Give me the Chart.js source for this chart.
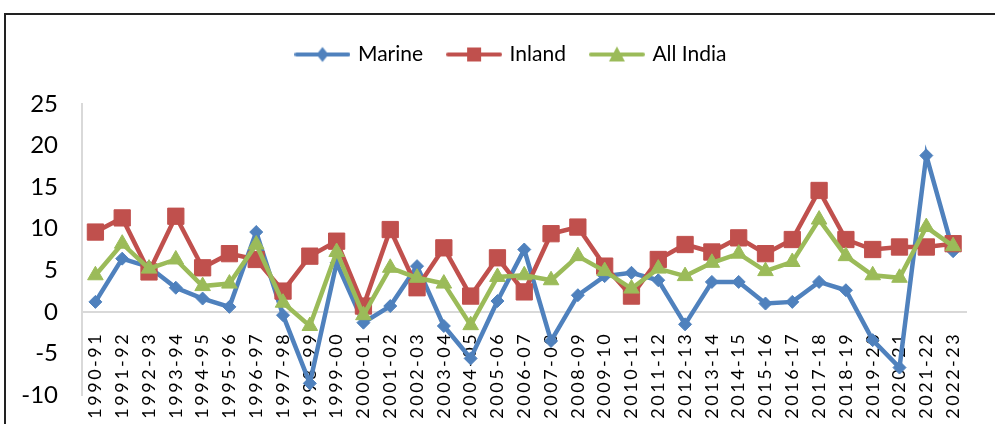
<!DOCTYPE html>
<html>
<head>
<meta charset="utf-8">
<script src="https://cdn.jsdelivr.net/npm/chart.js@4"></script>
<style>
  html, body { margin: 0; padding: 0; background: #fff; overflow: hidden; }
  #wrap { position: relative; width: 995px; height: 424px; }
  #frame { position: absolute; left: 4px; top: 13px; right: -10px; bottom: -10px;
           border-left: 2px solid #222; border-top: 2px solid #222; pointer-events: none; }
</style>
</head>
<body>
<div id="wrap">
  <canvas id="chart" width="995" height="424"></canvas>
  <div id="frame"></div>
</div>
<script>
const years = ['1990-91', '1991-92', '1992-93', '1993-94', '1994-95', '1995-96', '1996-97',
               '1997-98', '1998-99', '1999-00', '2000-01', '2001-02', '2002-03', '2003-04',
               '2004-05', '2005-06', '2006-07', '2007-08', '2008-09', '2009-10', '2010-11',
               '2011-12', '2012-13', '2013-14', '2014-15', '2015-16', '2016-17', '2017-18',
               '2018-19', '2019-20', '2020-21', '2021-22', '2022-23'];

const marine = [1.2, 6.4, 5.4, 2.9, 1.6, 0.6, 9.6, -0.4, -8.6, 5.9, -1.3, 0.7, 5.5, -1.7,
                -5.6, 1.3, 7.5, -3.5, 2.0, 4.3, 4.7, 3.8, -1.5, 3.6, 3.6, 1.0, 1.2, 3.6,
                2.6, -3.4, -6.7, 18.8, 7.3];
const inland = [9.6, 11.3, 4.8, 11.5, 5.3, 7.0, 6.3, 2.5, 6.7, 8.5, 0.7, 9.9, 2.9, 7.7,
                1.9, 6.5, 2.4, 9.4, 10.2, 5.5, 1.9, 6.3, 8.1, 7.2, 8.9, 7.0, 8.7, 14.6,
                8.7, 7.5, 7.8, 7.8, 8.2];
const allIndia = [4.4, 8.2, 5.2, 6.3, 3.1, 3.4, 8.1, 1.1, -1.7, 7.2, -0.4, 5.3, 4.1, 3.4,
                  -1.6, 4.2, 4.4, 3.8, 6.7, 4.9, 2.8, 5.2, 4.3, 5.9, 7.0, 4.9, 6.0, 11.1,
                  6.7, 4.4, 4.1, 10.2, 7.9];

const seriesNames = ['Marine', 'Inland', 'All India'];
const seriesColors = ['#4F81BD', '#C0504D', '#9BBB59'];

const yMin = -10;
const yMax = 25;
const yStep = 5;

// legend sample: line with the marker in the middle
function legendIcon(color, shape) {
  const c = document.createElement('canvas');
  c.width = 56; c.height = 18;
  const g = c.getContext('2d');
  g.strokeStyle = color;
  g.lineWidth = 4;
  g.lineCap = 'round';
  g.beginPath(); g.moveTo(2, 9); g.lineTo(54, 9); g.stroke();
  g.fillStyle = color;
  g.beginPath();
  if (shape === 'diamond') {
    g.moveTo(28, 1.5); g.lineTo(34, 9); g.lineTo(28, 16.5); g.lineTo(22, 9);
  } else if (shape === 'square') {
    g.rect(21, 2, 14, 14);
  } else {
    g.moveTo(28, 1); g.lineTo(36, 16); g.lineTo(20, 16);
  }
  g.closePath();
  g.fill();
  return c;
}

const icons = [
  legendIcon(seriesColors[0], 'diamond'),
  legendIcon(seriesColors[1], 'square'),
  legendIcon(seriesColors[2], 'triangle')
];

// extra room under the legend, and nudge it right like the original
const legendTweak = {
  id: 'legendTweak',
  beforeInit(chart) {
    const lg = chart.legend;
    const fit = lg.fit;
    lg.fit = function () {
      fit.call(this);
      this.height += 29;
    };
    const draw = lg.draw;
    lg.draw = function () {
      const ctx = this.ctx;
      ctx.save();
      ctx.translate(24, 0);
      draw.apply(this, arguments);
      ctx.restore();
    };
  }
};

// wide letter spacing on the category labels only
const spacedLabels = {
  id: 'spacedLabels',
  beforeDraw(chart) {
    const sc = chart.scales.x;
    if (sc._spaced) return;
    const orig = sc.drawLabels;
    sc.drawLabels = function (area) {
      const ctx = this.ctx;
      ctx.save();
      ctx.letterSpacing = '2.5px';
      orig.call(this, area);
      ctx.restore();
    };
    sc._spaced = true;
  }
};

function makeSet(i, data, style, radius) {
  return {
    label: seriesNames[i],
    data: data,
    borderColor: seriesColors[i],
    backgroundColor: seriesColors[i],
    borderWidth: 4.5,
    pointStyle: style,
    pointRadius: radius,
    pointBorderWidth: 1,
    pointBorderColor: seriesColors[i],
    pointBackgroundColor: seriesColors[i],
    tension: 0,
    order: 3 - i
  };
}

new Chart(document.getElementById('chart'), {
  type: 'line',
  data: {
    labels: years,
    datasets: [
      makeSet(0, marine, 'rectRot', 6.5),
      makeSet(1, inland, 'rect', 11.5),
      makeSet(2, allIndia, 'triangle', 9)
    ]
  },
  options: {
    responsive: false,
    animation: false,
    devicePixelRatio: 1,
    layout: { padding: { top: 18, left: 0, right: 19, bottom: 29 } },
    plugins: {
      tooltip: { enabled: false },
      legend: {
        position: 'top',
        labels: {
          usePointStyle: true,
          pointStyleWidth: 50,
          padding: 26,
          color: '#000',
          font: { family: 'Lato', size: 21 },
          generateLabels: (chart) => chart.data.datasets.map((ds, i) => ({
            text: ds.label,
            pointStyle: icons[i],
            fillStyle: seriesColors[i],
            strokeStyle: seriesColors[i],
            lineWidth: 0,
            hidden: false,
            datasetIndex: i
          }))
        }
      }
    },
    scales: {
      x: {
        type: 'category',
        position: { y: 0 },
        offset: true,
        grid: { display: false, drawTicks: false },
        border: { display: true, color: '#d9d9d9', width: 2 },
        ticks: {
          autoSkip: false,
          minRotation: 90,
          maxRotation: 90,
          padding: 20,
          color: '#000',
          font: { family: 'Lato', size: 18 }
        }
      },
      y: {
        min: yMin,
        max: yMax,
        grid: { display: false, drawTicks: false },
        border: { display: true, color: '#d9d9d9', width: 2 },
        ticks: {
          stepSize: yStep,
          padding: 24,
          color: '#000',
          font: { family: 'Lato', size: 24 }
        },
        afterFit(scale) {
          scale.width = 82;
          scale.paddingTop = 0;
          scale.paddingBottom = 0;
        }
      }
    }
  },
  plugins: [legendTweak, spacedLabels]
});
</script>
</body>
</html>
